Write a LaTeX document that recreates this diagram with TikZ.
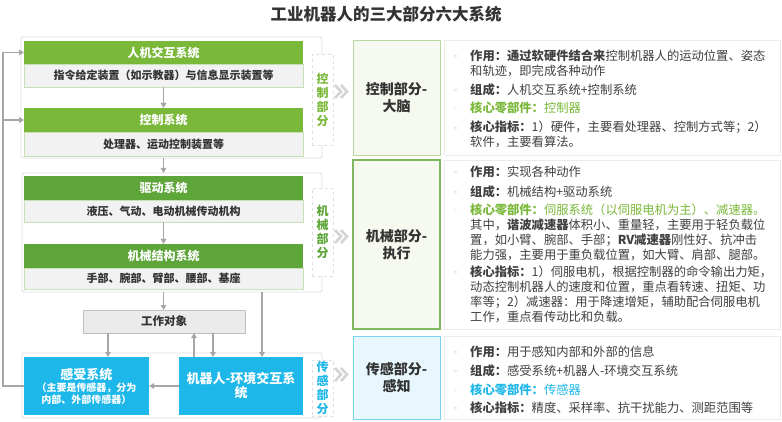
\documentclass[tikz,border=0pt]{standalone}
\usepackage{fontspec}
\setmainfont{Noto Sans CJK SC}
\newfontfamily\dejavu{DejaVu Sans}
\usetikzlibrary{arrows.meta}
\definecolor{gA}{HTML}{7AB83A}
\definecolor{gB}{HTML}{5FA63A}
\definecolor{subfill}{HTML}{F2F2F2}
\definecolor{subline}{HTML}{C9DFB5}
\definecolor{bl}{HTML}{1EB7EA}
\definecolor{txt}{HTML}{404040}
\definecolor{dk}{HTML}{333333}
\definecolor{arr}{HTML}{A6A6A6}
\definecolor{lg}{HTML}{F5F9EF}
\definecolor{lgb}{HTML}{B9D89E}
\definecolor{lbl}{HTML}{E8F7FD}
\definecolor{grp}{HTML}{DEDEDE}
\newcommand\rbox[7]{\node[#1, minimum width={(#5-#3)*1pt}, minimum height={(#6-#4)*1pt}] (#2) at ({(#3+#5)/2},{(#4+#6)/2}) {#7};}
\tikzset{
  base/.style={rectangle, inner sep=0pt, outer sep=0pt, align=center},
  hdr/.style={base, fill=gA, text=white, font=\bfseries\fontsize{12}{14}\selectfont},
  hdrB/.style={hdr, fill=gB},
  sub/.style={base, fill=subfill, draw=subline, line width=0.6pt, text=dk, font=\bfseries\fontsize{11}{13}\selectfont},
  grpbox/.style={base, draw=grp, line width=0.8pt, rounded corners=1.5pt},
  vlab/.style={base, draw=grp, dashed, line width=0.6pt, fill=white, font=\bfseries\fontsize{12}{14}\selectfont},
  midbox/.style={base, fill=lg, draw=lgb, line width=0.8pt, text=dk, font=\bfseries\fontsize{14}{17}\selectfont},
  rbx/.style={base, fill=white, draw=black!8, line width=0.6pt},
  bluebox/.style={base, fill=bl, text=white},
  arrw/.style={draw=arr, line width=1.3pt, -{Triangle[length=5pt,width=5.5pt]}},
  chev/.style={draw=black!17, line width=2.6pt},
  rt/.style={anchor=base west, inner sep=0pt, align=left, text=txt, font=\fontsize{12.3}{15}\selectfont},
  bul/.style={anchor=base west, inner sep=0pt, text=black!40, font=\dejavu\fontsize{8}{10}\selectfont}
}
\begin{document}
\begin{tikzpicture}[x=1pt,y=-1pt]
\path[use as bounding box, fill=white] (0,0) rectangle (782,422);
% title
\node[text=dk, font=\bfseries\fontsize{16.5}{19}\selectfont] (title) at (386,14) {工业机器人的三大部分六大系统};
% groups
\rbox{grpbox}{ctrl}{21}{37}{322}{158}{}
\rbox{grpbox}{mech}{22}{173}{322}{292}{}
\rbox{grpbox}{sensg}{22}{353}{322}{418}{}
% control part
\rbox{hdr}{h1}{24}{41}{303}{64}{人机交互系统}
\rbox{sub}{s1}{24}{64}{303}{87}{指令给定装置（如示教器）与信息显示装置等}
\rbox{hdr}{h2}{24}{108}{303}{132}{控制系统}
\rbox{sub}{s2}{24}{132}{303}{156}{处理器、运动控制装置等}
\rbox{vlab, text=gA}{l1}{312}{54}{333}{145}{控\\制\\部\\分}
% mechanical part
\rbox{hdrB}{h3}{24}{176}{303}{200}{驱动系统}
\rbox{sub}{s3}{24}{200}{303}{222}{液压、气动、电动机械传动机构}
\rbox{hdrB}{h4}{24}{244}{303}{268}{机械结构系统}
\rbox{sub}{s4}{24}{268}{303}{289}{手部、腕部、臂部、腰部、基座}
\rbox{vlab, text=gB}{l2}{312}{188}{333}{276}{机\\械\\部\\分}
% work object
\rbox{base, fill=black!8, draw=black!25, line width=0.6pt, text=dk, font=\bfseries\fontsize{11.5}{13}\selectfont}{work}{83}{310}{245}{333}{工作对象}
% sensing part
\rbox{bluebox}{sense}{24}{357}{149}{415}{{\bfseries\fontsize{13}{16}\selectfont 感受系统}\\{\bfseries\fontsize{10}{12.5}\selectfont （主要是传感器，分为}\\{\bfseries\fontsize{10}{12.5}\selectfont 内部、外部传感器）}}
\rbox{bluebox, font=\bfseries\fontsize{13}{14}\selectfont}{robot}{179}{357}{303}{415}{机器人-环境交互系\\统}
\rbox{vlab, text=bl}{l3}{312}{360}{333}{416}{传\\感\\部\\分}
% chevrons
\draw[chev] (335,85) -- (341,91.5) -- (335,98) (341,85) -- (347,91.5) -- (341,98);
\draw[chev] (335,230) -- (341,236.5) -- (335,243) (341,230) -- (347,236.5) -- (341,243);
\draw[chev] (335,368) -- (341,374.5) -- (335,381) (341,368) -- (347,374.5) -- (341,381);
% middle boxes
\rbox{midbox}{m1}{353}{40}{440}{155}{控制部分-\\大脑}
\rbox{midbox, draw=gB!80, line width=1.1pt}{m2}{353}{160}{440}{329}{机械部分-\\执行}
\rbox{midbox, fill=lbl, draw=bl!60}{m3}{353}{336}{440}{419}{传感部分-\\感知}
% right boxes
\rbox{rbx}{r1}{444}{40}{780}{155}{}
\rbox{rbx}{r2}{444}{160}{780}{329}{}
\rbox{rbx}{r3}{444}{336}{780}{419}{}
% box 1 text (base anchor = last line baseline)
\node[bul] (b11) at (453,60) {◦};
\node[rt] (t11) at (470,76) {\textbf{作用：通过软硬件结合来}控制机器人的运动位置、姿态\\和轨迹，即完成各种动作};
\node[bul] (b12) at (453,93.5) {◦};
\node[rt] (t12) at (470,94.5) {\textbf{组成：}人机交互系统+控制系统};
\node[bul, text=gA!50] (b13) at (453,111.8) {◦};
\node[rt, text=gA] (t13) at (470,112.8) {\textbf{核心零部件：}控制器};
\node[bul] (b14) at (453,131.8) {◦};
\node[rt] (t14) at (470,147) {\textbf{核心指标：}1）硬件，主要看处理器、控制方式等；2）\\软件，主要看算法。};
% box 2 text
\node[bul] (b21) at (453,175.8) {◦};
\node[rt] (t21) at (470,176.8) {\textbf{作用：}实现各种动作};
\node[bul] (b22) at (453,195.2) {◦};
\node[rt] (t22) at (470,196.2) {\textbf{组成：}机械结构+驱动系统};
\node[bul, text=gA!50] (b23) at (453,213.5) {◦};
\node[rt] (t23) at (470,259.5) {\textcolor{gA}{\textbf{核心零部件：}伺服系统（以伺服电机为主）、减速器。}\\其中，\textbf{谐波减速器}体积小、重量轻，主要用于轻负载位\\置，如小臂、腕部、手部；\textbf{RV减速器}刚性好、抗冲击\\能力强，主要用于重负载位置，如大臂、肩部、腿部。};
\node[bul] (b24) at (453,275.2) {◦};
\node[rt] (t24) at (470,321.2) {\textbf{核心指标：}1）伺服电机，根据控制器的命令输出力矩，\\动态控制机器人的速度和位置，重点看转速、扭矩、功\\率等；2）减速器：用于降速增矩，辅助配合伺服电机\\工作，重点看传动比和负载。};
% box 3 text
\node[bul] (b31) at (453,355.2) {◦};
\node[rt] (t31) at (470,356.2) {\textbf{作用：}用于感知内部和外部的信息};
\node[bul] (b32) at (453,374.2) {◦};
\node[rt] (t32) at (470,375.2) {\textbf{组成：}感受系统+机器人-环境交互系统};
\node[bul, text=bl!50] (b33) at (453,393.5) {◦};
\node[rt, text=bl] (t33) at (470,394.5) {\textbf{核心零部件：}传感器};
\node[bul] (b34) at (453,411.8) {◦};
\node[rt] (t34) at (470,412.8) {\textbf{核心指标：}精度、采样率、抗干扰能力、测距范围等};
% connectors
\coordinate (fbx) at (3,386);
\coordinate (xa) at (108,0);
\coordinate (xb) at (213,0);
\coordinate (xc) at (194,0);
\coordinate (xd) at (262,0);
\draw[arrw] (s1.south) -- (h2.north);
\draw[arrw] (h2.south |- ctrl.south) -- (h3.north |- mech.north);
\draw[arrw] (s3.south) -- (h4.north);
\draw[arrw] (h4.south |- mech.south) -- (h4.south |- work.north);
\draw[arrw] (xd |- mech.south) -- (xd |- robot.north);
\draw[arrw] (xa |- work.south) -- (xa |- sense.north);
\draw[arrw] (xb |- work.south) -- (xb |- robot.north);
\draw[arrw] (xc |- robot.north) -- (xc |- work.south);
\draw[arrw] (robot.west) -- (sense.east);
\draw[arrw] (sense.west) -- (fbx) |- (h1.west);
\draw[arrw] (fbx |- h2.west) -- (h2.west);
\end{tikzpicture}
\end{document}
